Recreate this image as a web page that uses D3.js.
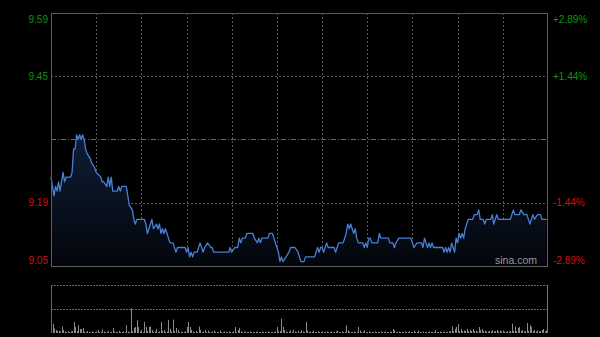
<!DOCTYPE html>
<html><head><meta charset="utf-8">
<script src="https://cdn.jsdelivr.net/npm/d3@7/dist/d3.min.js"></script>
<style>html,body{margin:0;padding:0;background:#000;}svg{display:block;}</style>
</head><body>
<svg id="c" width="600" height="337"></svg>
<script>
// ---- data ----
const prevClose = 9.32;
const pctRange = 2.89;
const gridPcts = [2.89, 1.445, 0, -1.445, -2.89];
const priceLabels = ["9.59", "9.45", "", "9.19", "9.05"];
const pctLabels = ["+2.89%", "+1.44%", "", "-1.44%", "-2.89%"];
const sessionMinutes = 330;
const timeGridMinutes = [30, 60, 90, 120, 150, 180, 210, 240, 270, 300];

const minutes = [0,2,3,4,5,6,8,9,10,13,14,15,16,17,18,19,20,21,22,23,24,26,27,29,30,33,34,35,37,38,39,40,41,44,45,46,47,50,51,52,54,55,56,57,62,63,64,65,67,68,70,71,72,73,74,75,76,77,79,81,83,84,89,90,91,92,93,94,95,97,99,100,101,102,104,106,107,108,118,119,120,122,124,125,126,127,129,130,134,135,137,138,139,140,144,145,147,148,149,151,152,153,154,156,158,159,162,164,165,166,168,169,175,176,177,178,179,180,181,183,184,188,189,190,191,194,195,196,197,198,199,200,201,202,203,204,207,208,209,210,211,212,213,217,218,219,224,225,227,228,229,231,239,240,241,243,246,247,248,249,250,251,252,253,254,260,261,262,263,264,265,266,267,268,269,270,271,272,273,274,275,276,277,280,281,283,284,285,287,288,289,292,293,294,295,296,297,305,306,307,308,311,312,314,316,317,318,320,321,323,325,326,329];
const prices = [9.24,9.20,9.22,9.21,9.23,9.21,9.25,9.23,9.24,9.24,9.25,9.30,9.30,9.33,9.32,9.33,9.32,9.33,9.32,9.30,9.29,9.28,9.27,9.26,9.25,9.24,9.23,9.23,9.22,9.24,9.22,9.24,9.21,9.21,9.22,9.21,9.22,9.22,9.20,9.18,9.17,9.15,9.14,9.15,9.15,9.14,9.12,9.13,9.15,9.13,9.14,9.13,9.14,9.12,9.13,9.12,9.13,9.12,9.10,9.10,9.08,9.09,9.09,9.08,9.09,9.07,9.08,9.07,9.08,9.08,9.10,9.09,9.08,9.09,9.10,9.09,9.09,9.08,9.08,9.09,9.08,9.09,9.09,9.11,9.10,9.11,9.11,9.12,9.12,9.11,9.10,9.11,9.10,9.11,9.11,9.12,9.12,9.11,9.10,9.08,9.06,9.07,9.06,9.07,9.08,9.09,9.09,9.08,9.07,9.06,9.06,9.07,9.07,9.08,9.09,9.08,9.09,9.09,9.08,9.10,9.09,9.09,9.08,9.09,9.10,9.10,9.11,9.12,9.14,9.13,9.14,9.13,9.12,9.13,9.11,9.10,9.10,9.09,9.10,9.09,9.11,9.11,9.10,9.10,9.12,9.11,9.11,9.10,9.10,9.09,9.10,9.11,9.11,9.10,9.09,9.10,9.10,9.09,9.11,9.10,9.09,9.10,9.09,9.10,9.09,9.09,9.08,9.09,9.08,9.09,9.08,9.10,9.09,9.08,9.11,9.10,9.12,9.11,9.12,9.11,9.13,9.14,9.15,9.15,9.16,9.16,9.17,9.15,9.15,9.14,9.15,9.15,9.16,9.14,9.15,9.16,9.15,9.15,9.16,9.17,9.16,9.16,9.17,9.16,9.16,9.15,9.14,9.16,9.15,9.16,9.16,9.15,9.15];

const volumeMax = 47.7;
const volumes = [
16.7,9,4.5,3,2,2,1.5,6.5,3,1.5,
1,2,1,1.5,2,11,6,2,7.7,4,
4,5,1.5,1,2,1,1,1.5,1,1,
1.5,3,1,1,3.5,1.5,1,1,2,1,
1,5,1.5,1,1,2,1,1,1.5,1,
7.7,1.5,1,24.4,2,5,6,12.7,6,1.5,
3,1,11,6,2,6,6.5,3,1,1.5,
4,1,1.5,11,2,3,1,1.5,12.7,4,
1.5,13.3,2,5,3,1,1.5,1,1,1.5,
6,11,6,3,1.5,1,2,1,6.5,3,
1,1.5,3,1,2.5,1,1,1.5,2.5,1,
1,1,2.5,1,1,1.5,1,1,1.5,1,
1,1.5,6,1,3,5,1.5,1,1,1.5,
1,1,1.5,1,1,1,1.5,1,1,1,
1.5,1,1,1,1.5,1,1,1,1,1.5,
6,1.5,2,14.3,6,3,1.5,1,1.5,2.5,
1,3,1.5,1,2.5,1,3,1.5,1,11,
2.5,1,1.5,1,2.5,1,1,1.5,1,1,
1.5,1,1,1.5,1,1,1.5,1,1,1.5,
2.5,1,1,1.5,1,1,7.7,2.5,1.5,1,
1,1.5,1,1,6,2.5,1,1.5,2.5,1,
1,1.5,1,1,1,1.5,1,1,1,1.5,
1,1,1.5,1,1,1,1.5,4,2.5,1,
1,1.5,1,1,1,1.5,1,1,1.5,1,
1,2.5,1,1,2.5,1,1,1.5,1,1,
1,1.5,1,1,1,3,1,1,1.5,1,
1,1.5,1,1,1.5,2,6.5,2,4,6,
8.7,2,4,2,2.5,2,4,2,3,2,
4,2,2,1.5,6,3,4,2,2.5,1.5,
1.5,2,1.5,3,1.5,2,3,1.5,2.5,1.5,
2.5,1.5,1,2,1.5,2,9.3,2,6.5,2,
5,6,2,3,1.5,2,10,2,7.7,6,
2,3,1.5,2.5,1.5,2,3,4,1.5,2.5];

// ---- layout ----
const L = 51, R = 548, T = 13, B = 266;
const VT = 285, VB = 333;
const svg = d3.select("#c");
svg.append("rect").attr("width",600).attr("height",337).attr("fill","#000");

const x = d3.scaleLinear().domain([0, sessionMinutes]).range([L, R]);
const y = d3.scaleLinear()
  .domain([prevClose*(1-pctRange/100), prevClose*(1+pctRange/100)])
  .range([B, T]);
const yv = d3.scaleLinear().domain([0, volumeMax]).range([VB, VT]);

const defs = svg.append("defs");
const grad = defs.append("linearGradient").attr("id","ag")
  .attr("x1",0).attr("y1",0).attr("x2",0).attr("y2",1);
grad.append("stop").attr("offset","0%").attr("stop-color","#0f1d36");
grad.append("stop").attr("offset","100%").attr("stop-color","#03060b");

// grid - horizontal
const gridG = svg.append("g");
gridPcts.forEach((p,i) => {
  if (i === 0 || i === gridPcts.length-1) return;
  const yy = Math.round(y(prevClose*(1+p/100))) + 0.5;
  gridG.append("line").attr("x1",L).attr("x2",R).attr("y1",yy).attr("y2",yy)
    .attr("stroke", p === 0 ? "#6a6a6a" : "#555")
    .attr("stroke-dasharray", p === 0 ? "5,2,1,2" : "2,2");
});
// grid - vertical
timeGridMinutes.forEach(m => {
  const xx = Math.round(x(m)) + 0.5;
  gridG.append("line").attr("x1",xx).attr("x2",xx).attr("y1",T).attr("y2",B)
    .attr("stroke","#555").attr("stroke-dasharray","2,2");
});

// area + line
const pts = minutes.map((m,i) => [m, prices[i]]);
svg.append("path").datum(pts)
  .attr("d", d3.area().x(d=>x(d[0])).y0(B).y1(d=>y(d[1])))
  .attr("fill","url(#ag)");
svg.append("path").datum(pts)
  .attr("d", d3.line().x(d=>x(d[0])).y(d=>y(d[1])))
  .attr("fill","none").attr("stroke","#4a7fd6").attr("stroke-width",1.3)
  .attr("stroke-linejoin","round");

// main frame
svg.append("rect").attr("x",L+0.5).attr("y",T+0.5).attr("width",R-L-1).attr("height",B-T)
  .attr("fill","none").attr("stroke","#5c5c5c");

// labels
gridPcts.forEach((p,i) => {
  if (!priceLabels[i]) return;
  let yy = y(prevClose*(1+p/100));
  if (i === 0) yy += 6;
  if (i === gridPcts.length-1) yy -= 6;
  const col = p > 0 ? "#0a9a0a" : "#d01010";
  svg.append("text").attr("x",48).attr("y",yy).attr("dy","0.35em")
    .attr("text-anchor","end").attr("font-family","Liberation Sans, Arial, sans-serif")
    .attr("font-size",10).attr("fill",col).text(priceLabels[i]);
  svg.append("text").attr("x",553).attr("y",yy).attr("dy","0.35em")
    .attr("text-anchor","start").attr("font-family","Liberation Sans, Arial, sans-serif")
    .attr("font-size",10).attr("fill",col).text(pctLabels[i]);
});

// watermark
svg.append("text").attr("x",537).attr("y",264).attr("text-anchor","end")
  .attr("font-family","Liberation Sans, Arial, sans-serif").attr("font-size",10.5)
  .attr("fill","#9a9a9a").text("sina.com");

// volume panel
const vg = svg.append("g");
[VT, (VT+VB)/2].forEach(yy => {
  vg.append("line").attr("x1",L).attr("x2",R).attr("y1",Math.round(yy)+0.5).attr("y2",Math.round(yy)+0.5)
    .attr("stroke","#666").attr("stroke-dasharray","2,1");
});
vg.selectAll("rect.vb").data(volumes).join("rect").attr("class","vb")
  .attr("x",(d,i)=>Math.floor(x(i)+0.5))
  .attr("width",1)
  .attr("y",d=>yv(d))
  .attr("height",d=>VB - yv(d))
  .attr("fill","#8a8a8a");
vg.append("line").attr("x1",L+0.5).attr("x2",L+0.5).attr("y1",VT).attr("y2",VB).attr("stroke","#666");
vg.append("line").attr("x1",R-0.5).attr("x2",R-0.5).attr("y1",VT).attr("y2",VB).attr("stroke","#777");
</script>
</body></html>
